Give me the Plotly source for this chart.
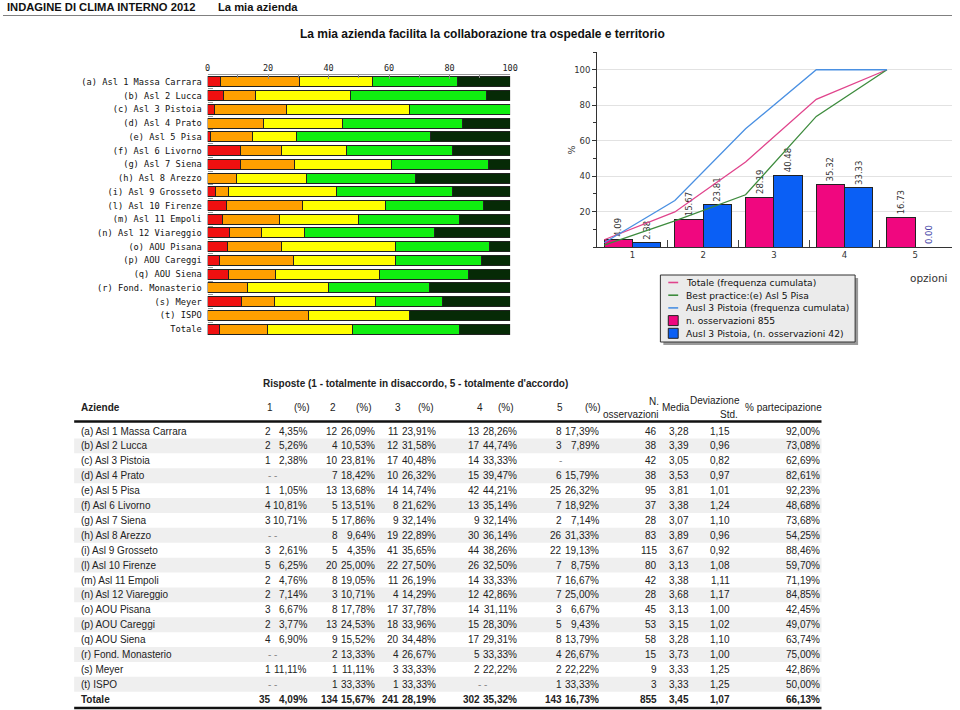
import itertools
import plotly.graph_objects as go

W, H = 960, 710

# ---------------- data ----------------
aziende = [
    "(a) Asl 1 Massa Carrara", "(b) Asl 2 Lucca", "(c) Asl 3 Pistoia", "(d) Asl 4 Prato",
    "(e) Asl 5 Pisa", "(f) Asl 6 Livorno", "(g) Asl 7 Siena", "(h) Asl 8 Arezzo",
    "(i) Asl 9 Grosseto", "(l) Asl 10 Firenze", "(m) Asl 11 Empoli", "(n) Asl 12 Viareggio",
    "(o) AOU Pisana", "(p) AOU Careggi", "(q) AOU Siena", "(r) Fond. Monasterio",
    "(s) Meyer", "(t) ISPO", "Totale",
]
n1 = [2, 2, 1, None, 1, 4, 3, None, 3, 5, 2, 2, 3, 2, 4, None, 1, None, 35]
p1 = [4.35, 5.26, 2.38, None, 1.05, 10.81, 10.71, None, 2.61, 6.25, 4.76, 7.14, 6.67, 3.77, 6.90, None, 11.11, None, 4.09]
n2 = [12, 4, 10, 7, 13, 5, 5, 8, 5, 20, 8, 3, 8, 13, 9, 2, 1, 1, 134]
p2 = [26.09, 10.53, 23.81, 18.42, 13.68, 13.51, 17.86, 9.64, 4.35, 25.00, 19.05, 10.71, 17.78, 24.53, 15.52, 13.33, 11.11, 33.33, 15.67]
n3 = [11, 12, 17, 10, 14, 8, 9, 19, 41, 22, 11, 4, 17, 18, 20, 4, 3, 1, 241]
p3 = [23.91, 31.58, 40.48, 26.32, 14.74, 21.62, 32.14, 22.89, 35.65, 27.50, 26.19, 14.29, 37.78, 33.96, 34.48, 26.67, 33.33, 33.33, 28.19]
n4 = [13, 17, 14, 15, 42, 13, 9, 30, 44, 26, 14, 12, 14, 15, 17, 5, 2, None, 302]
p4 = [28.26, 44.74, 33.33, 39.47, 44.21, 35.14, 32.14, 36.14, 38.26, 32.50, 33.33, 42.86, 31.11, 28.30, 29.31, 33.33, 22.22, None, 35.32]
n5 = [8, 3, None, 6, 25, 7, 2, 26, 22, 7, 7, 7, 3, 5, 8, 4, 2, 1, 143]
p5 = [17.39, 7.89, None, 15.79, 26.32, 18.92, 7.14, 31.33, 19.13, 8.75, 16.67, 25.00, 6.67, 9.43, 13.79, 26.67, 22.22, 33.33, 16.73]
n_oss = [46, 38, 42, 38, 95, 37, 28, 83, 115, 80, 42, 28, 45, 53, 58, 15, 9, 3, 855]
media = [3.28, 3.39, 3.05, 3.53, 3.81, 3.38, 3.07, 3.89, 3.67, 3.13, 3.38, 3.68, 3.13, 3.15, 3.28, 3.73, 3.33, 3.33, 3.45]
dev_std = [1.15, 0.96, 0.82, 0.97, 1.01, 1.24, 1.10, 0.96, 0.92, 1.08, 1.11, 1.17, 1.00, 1.02, 1.10, 1.00, 1.25, 1.25, 1.07]
partecipazione = [92.00, 73.08, 62.69, 82.61, 92.23, 48.68, 73.68, 54.25, 88.46, 59.70, 71.19, 84.85, 42.45, 49.07, 63.74, 75.00, 42.86, 50.00, 66.13]

opzioni = [1, 2, 3, 4, 5]
risposte_labels = ["1", "2", "3", "4", "5"]
x_ticks_left = [0, 20, 40, 60, 80, 100]
y_ticks_right = [20, 40, 60, 80, 100]

counts = [n1, n2, n3, n4, n5]
pcts = [p1, p2, p3, p4, p5]

i_tot = aziende.index("Totale")
i_pist = aziende.index("(c) Asl 3 Pistoia")
i_best = aziende.index("(e) Asl 5 Pisa")

def row_pct(i):
    return [(p[i] or 0.0) for p in pcts]

tot_pct = row_pct(i_tot)
pist_pct = row_pct(i_pist)
best_pct = row_pct(i_best)
tot_cum = [round(v, 2) for v in itertools.accumulate(tot_pct)]
pist_cum = [round(v, 2) for v in itertools.accumulate(pist_pct)]
best_cum = [round(v, 2) for v in itertools.accumulate(best_pct)]

# ---------------- styling ----------------
MONO = "DejaVu Sans Mono"
SANS = "Liberation Sans, Arial, sans-serif"
VERD = "DejaVu Sans, Verdana, sans-serif"
seg_colors = ["#f01010", "#ffa000", "#ffff00", "#10ee10", "#062a06"]
PINK, BLUE = "#f0077f", "#0a5ff5"
LINE_TOT, LINE_BEST, LINE_PIST = "#e0448c", "#3d8b3d", "#4a90e2"

def px(x):
    return x / W

def py(y):
    return 1 - y / H

fig = go.Figure()

# ---------------- left stacked bar chart ----------------
for k in range(5):
    fig.add_trace(go.Bar(
        y=aziende, x=pcts[k], orientation="h",
        marker=dict(color=seg_colors[k], line=dict(color="#222", width=1)),
        xaxis="x", yaxis="y", showlegend=False, name=risposte_labels[k],
    ))

# ---------------- right chart ----------------
fig.add_trace(go.Bar(
    x=[o - 0.2 for o in opzioni], y=tot_pct, width=0.4,
    marker=dict(color=PINK, line=dict(color="#222", width=1)),
    texttemplate="%{y:.2f}", textposition="outside", textangle=-90,
    textfont=dict(family=VERD, size=8.5, color="#333"), constraintext="none",
    cliponaxis=False, xaxis="x2", yaxis="y2", showlegend=False,
    name="n. osservazioni 855",
))
fig.add_trace(go.Bar(
    x=[o + 0.2 for o in opzioni], y=pist_pct, width=0.4,
    marker=dict(color=BLUE, line=dict(color="#222", width=1)),
    texttemplate="%{y:.2f}", textposition="outside", textangle=-90,
    textfont=dict(family=VERD, size=8.5,
                  color=["#333" if v > 0 else "#4646a8" for v in pist_pct]),
    constraintext="none", cliponaxis=False, xaxis="x2", yaxis="y2",
    showlegend=False, name="Ausl 3 Pistoia, (n. osservazioni 42)",
))
for ys, col, nm in [(tot_cum, LINE_TOT, "Totale (frequenza cumulata)"),
                    (best_cum, LINE_BEST, "Best practice:(e) Asl 5 Pisa"),
                    (pist_cum, LINE_PIST, "Ausl 3 Pistoia (frequenza cumulata)")]:
    fig.add_trace(go.Scatter(
        x=[o - 0.4 for o in opzioni], y=ys, mode="lines",
        line=dict(color=col, width=1.3), xaxis="x2", yaxis="y2",
        showlegend=False, name=nm,
    ))

fig.update_layout(
    width=W, height=H, margin=dict(l=0, r=0, t=0, b=0),
    paper_bgcolor="white", plot_bgcolor="white",
    barmode="stack", bargap=0.27, showlegend=False,
    xaxis=dict(domain=[px(207), px(513)], range=[0, 100], side="top", anchor="y",
               tickvals=x_ticks_left, ticks="inside", ticklen=4, tickcolor="#888",
               minor=dict(dtick=10, ticks="inside", ticklen=3, tickcolor="#888"),
               showline=True, linecolor="#999", linewidth=1, showgrid=False, zeroline=False,
               tickfont=dict(family=MONO, size=8.5, color="#222"), fixedrange=True),
    yaxis=dict(domain=[py(336), py(75)], anchor="x", autorange="reversed",
               categoryorder="array", categoryarray=aziende,
               ticks="inside", tickson="boundaries", ticklen=5, tickcolor="#999",
               showline=False, showgrid=False, zeroline=False, ticklabelstandoff=5,
               tickfont=dict(family=MONO, size=8.7, color="#111"), fixedrange=True),
    xaxis2=dict(domain=[px(601), 1.0], range=[0.5, 5.52], anchor="y2",
                tickvals=opzioni, ticktext=[str(o) for o in opzioni], ticks="",
                minor=dict(tickmode="array", tickvals=[1.5, 2.5, 3.5, 4.5],
                           ticks="inside", ticklen=7, tickcolor="#444"),
                showline=True, linecolor="#333", linewidth=1, showgrid=False,
                zeroline=False, tickfont=dict(family=VERD, size=8.5, color="#333"),
                fixedrange=True),
    yaxis2=dict(domain=[py(247), py(52)], range=[0, 110], anchor="x2",
                tickvals=y_ticks_right, ticks="outside", ticklen=4, tickcolor="#333",
                minor=dict(dtick=10, ticks="outside", ticklen=3, tickcolor="#333", showgrid=False),
                showline=True, linecolor="#333", linewidth=1, showgrid=True,
                gridcolor="#e2e2e2", zeroline=False,
                tickfont=dict(family=VERD, size=8.5, color="#333"), fixedrange=True),
)

shapes = []
annots = []

def ann(x, y, text, anchor="left", size=10, color="#222", family=SANS, angle=0):
    annots.append(dict(x=px(x), y=py(y), xref="paper", yref="paper", text=text,
                       showarrow=False, xanchor=anchor, yanchor="middle", textangle=angle,
                       font=dict(family=family, size=size, color=color)))

def hline(x0, x1, y, color, width):
    shapes.append(dict(type="line", xref="paper", yref="paper", x0=px(x0), x1=px(x1),
                       y0=py(y), y1=py(y), line=dict(color=color, width=width)))

def rect(x0, x1, y0, y1, fill, line_color=None, line_width=0, layer="above"):
    shapes.append(dict(type="rect", xref="paper", yref="paper", x0=px(x0), x1=px(x1),
                       y0=py(y1), y1=py(y0), fillcolor=fill, layer=layer,
                       line=dict(color=line_color or fill, width=line_width)))

# ---------------- page header ----------------
ann(2, 7, "<b>INDAGINE DI CLIMA INTERNO 2012</b>", size=11.2, color="#111")
ann(215, 7, "<b>La mia azienda</b>", size=11.2, color="#111")
hline(0, 960, 15.5, "#808080", 1)
ann(485, 34, "<b>La mia azienda facilita la collaborazione tra ospedale e territorio</b>",
    anchor="center", size=12, color="#111")

# ---------------- right chart extras ----------------
ann(576, 150, "%", anchor="center", size=9.5, color="#333", family=VERD, angle=-90)
ann(937, 278, "opzioni", anchor="center", size=10.5, color="#333", family=VERD)

# legend box
rect(668, 865, 278, 345, "#9a9a9a")
rect(665, 862, 275, 342, "#ebebeb", "#333", 1)
leg_items = [("line", LINE_TOT, "Totale (frequenza cumulata)"),
             ("line", LINE_BEST, "Best practice:(e) Asl 5 Pisa"),
             ("line", LINE_PIST, "Ausl 3 Pistoia (frequenza cumulata)"),
             ("box", PINK, "n. osservazioni 855"),
             ("box", BLUE, "Ausl 3 Pistoia, (n. osservazioni 42)")]
for j, (kind, col, label) in enumerate(leg_items):
    yy = 282.5 + j * 12.7
    if kind == "line":
        hline(673, 683, yy, col, 1.6)
    else:
        rect(673, 683, yy - 5, yy + 5, col, "#222", 1)
    ann(689, yy, label, size=9.2, color="#111", family=VERD)

# ---------------- table ----------------
ROW0, RSTEP = 431.0, 14.9
X0, X1 = 72, 828
cnt_right = [273, 341, 403, 485, 568]
pct_right = [310, 378, 440, 522, 605]
hdr_num_x = [270, 334, 400, 483, 563]
hdr_pct_x = [302, 365, 428, 509, 597]

def fmt(v, d=2):
    return f"{v:.{d}f}".replace(".", ",")

for i in range(len(aziende)):
    yc = ROW0 + i * RSTEP
    if i % 2 == 1:
        rect(X0, X1, yc - RSTEP / 2, yc + RSTEP / 2, "#efefef", layer="below")

ann(261, 384, "<b>Risposte (1 - totalmente in disaccordo, 5 - totalmente d'accordo)</b>", size=10)
ann(77, 407, "<b>Aziende</b>", size=10)
for k in range(5):
    ann(hdr_num_x[k], 407, risposte_labels[k], anchor="center", size=10)
    ann(hdr_pct_x[k], 407, "(%)", anchor="center", size=10)
ann(666, 401, "N.", anchor="right", size=10)
ann(666, 414, "osservazioni", anchor="right", size=10)
ann(681, 407, "Media", anchor="center", size=10)
ann(748, 400, "Deviazione", anchor="right", size=10)
ann(746, 414, "Std.", anchor="right", size=10)
ann(790, 407, "% partecipazione", anchor="center", size=10)
hline(X0, X1, 421.5, "#111", 2.5)
hline(X0, X1, 708, "#111", 2.5)

for i, name in enumerate(aziende):
    yc = ROW0 + i * RSTEP
    b = (lambda s: f"<b>{s}</b>") if name == "Totale" else (lambda s: s)
    ann(77, yc, b(name), size=10)
    for k in range(5):
        c, p = counts[k][i], pcts[k][i]
        if c is None:
            txt = "-" if k == 4 else "- -"
            ann(cnt_right[k] - (4 if k == 4 else 0), yc, txt, anchor="center", size=10, color="#888")
        else:
            ann(cnt_right[k], yc, b(str(c)), anchor="right", size=10)
            ann(pct_right[k], yc, b(fmt(p) + "%"), anchor="right", size=10)
    ann(664, yc, b(str(n_oss[i])), anchor="right", size=10)
    ann(696, yc, b(fmt(media[i])), anchor="right", size=10)
    ann(737, yc, b(fmt(dev_std[i])), anchor="right", size=10)
    ann(828, yc, b(fmt(partecipazione[i]) + "%"), anchor="right", size=10)

fig.update_layout(shapes=shapes, annotations=annots)

fig.write_html("out.html", config={"displayModeBar": False},
               post_script="document.body.style.margin='0px';")
